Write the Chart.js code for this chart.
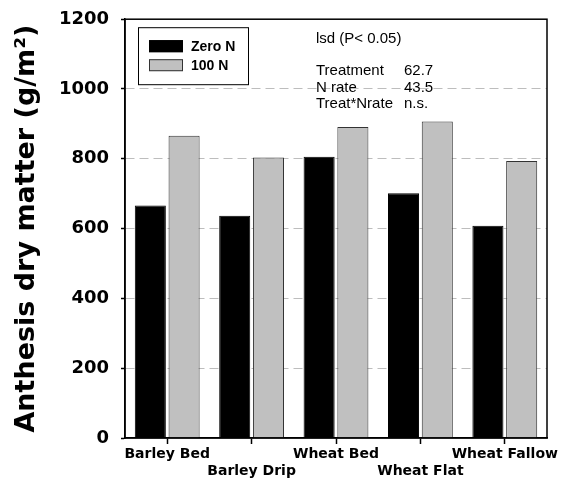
<!DOCTYPE html>
<html>
<head>
  <meta charset="utf-8">
  <title>Anthesis dry matter</title>
  <script src="https://cdn.jsdelivr.net/npm/chart.js@4.4.0/dist/chart.umd.min.js"></script>
  <style>
    body { margin: 0; background: #fff; }
    #wrap { width: 573px; height: 484px; }
  </style>
</head>
<body>
  <div id="wrap"><canvas id="dmChart"></canvas></div>

  <script>
    const treatments = ['Barley Bed', 'Barley Drip', 'Wheat Bed', 'Wheat Flat', 'Wheat Fallow'];
    const zeroN = [666, 637, 806, 701, 608];
    const hundredN = [866, 804, 891, 907, 794];
    const yTicks = [0, 200, 400, 600, 800, 1000, 1200];
    const lsdRows = [['Treatment', '62.7'], ['N rate', '43.5'], ['Treat*Nrate', 'n.s.']];

    // frame, legend box and lsd note drawn inside the plot area
    const extras = {
      id: 'extras',
      afterDatasetsDraw(chart) {
        const { ctx, chartArea: a } = chart;
        ctx.save();
        ctx.strokeStyle = '#000';
        ctx.lineWidth = 1.5;
        ctx.strokeRect(a.left, a.top, a.right - a.left, a.bottom - a.top);

        // legend
        const lx = a.left + 13, ly = a.top + 8;
        ctx.fillStyle = '#fff';
        ctx.fillRect(lx, ly, 110, 57);
        ctx.lineWidth = 1;
        ctx.strokeRect(lx + 0.5, ly + 0.5, 110, 57);
        chart.data.datasets.forEach((ds, i) => {
          const y = ly + 13 + i * 19;
          ctx.fillStyle = ds.backgroundColor;
          ctx.fillRect(lx + 11, y, 34, 12);
          ctx.strokeStyle = ds.borderColor;
          ctx.strokeRect(lx + 11.5, y + 0.5, 33, 11);
          ctx.fillStyle = '#000';
          ctx.font = 'bold 14px "Liberation Sans", Arial, sans-serif';
          ctx.textBaseline = 'middle';
          ctx.fillText(ds.label, lx + 53, y + 6.5);
        });

        // lsd note
        ctx.font = '15px "Liberation Sans", Arial, sans-serif';
        ctx.fillStyle = '#000';
        ctx.textBaseline = 'middle';
        ctx.fillText('lsd (P< 0.05)', a.left + 191, a.top + 20);
        lsdRows.forEach((r, i) => {
          const y = a.top + 52 + i * 16.5;
          ctx.fillText(r[0], a.left + 191, y);
          ctx.fillText(r[1], a.left + 279, y);
        });
        ctx.restore();
      }
    };

    const ctx = document.getElementById('dmChart').getContext('2d');
    new Chart(ctx, {
      type: 'bar',
      data: {
        labels: treatments,
        datasets: [{
          label: 'Zero N',
          data: zeroN,
          backgroundColor: '#000000',
          borderColor: '#000000',
          borderWidth: 1
        }, {
          label: '100 N',
          data: hundredN,
          backgroundColor: '#c0c0c0',
          borderColor: '#333333',
          borderWidth: 1
        }]
      },
      options: {
        responsive: true,
        maintainAspectRatio: false,
        animation: false,
        layout: { padding: { left: 0, right: 26, top: 18, bottom: 0 } },
        datasets: { bar: { categoryPercentage: 0.8, barPercentage: 0.92 } },
        plugins: {
          legend: { display: false },
          tooltip: { enabled: false }
        },
        scales: {
          x: {
            afterFit(scale) { scale.height = 46; },
            grid: { offset: false, drawOnChartArea: false, drawTicks: true, tickLength: 6, tickColor: '#000', tickWidth: 1.5 },
            border: { color: '#000', width: 1.5 },
            ticks: {
              color: '#000',
              padding: 2,
              maxRotation: 0,
              autoSkip: false,
              font: { family: 'DejaVu Sans', size: 14, weight: 'bold', lineHeight: 1.2 },
              callback(v, i) { return i % 2 ? ['', treatments[i]] : [treatments[i]]; }
            }
          },
          y: {
            min: 0,
            max: 1200,
            afterFit(scale) { scale.width = 125; },
            afterBuildTicks(scale) { scale.ticks = yTicks.map(v => ({ value: v })); },
            grid: {
              color: c => (c.tick.value === 0 || c.tick.value === 1200) ? 'rgba(0,0,0,0)' : '#bdbdbd',
              lineWidth: 1,
              tickColor: '#000',
              tickLength: 4,
              tickWidth: 1.5
            },
            border: { color: '#000', width: 1.5, dash: [9, 5] },
            ticks: {
              color: '#000',
              padding: 12,
              font: { family: 'DejaVu Sans', size: 18, weight: 'bold', lineHeight: 0.8 },
              callback: v => String(v)
            },
            title: {
              display: true,
              text: 'Anthesis dry matter (g/m²)',
              color: '#000',
              padding: { top: 11, bottom: 0 },
              font: { family: 'DejaVu Sans', size: 27, weight: 'bold' }
            }
          }
        }
      },
      plugins: [extras]
    });
  </script>
</body>
</html>
